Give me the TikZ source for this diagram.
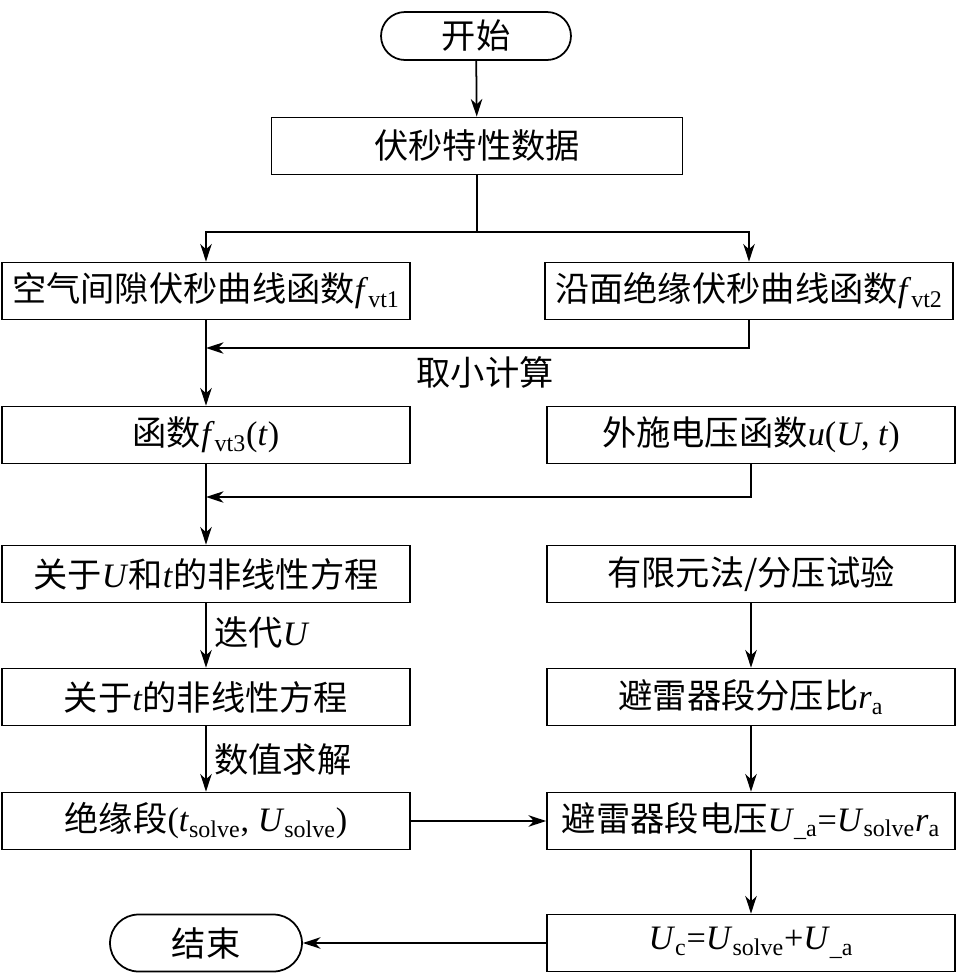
\documentclass[tikz,border=0pt]{standalone}
\usepackage{fontspec}
\setmainfont{Liberation Serif}
\newfontfamily\cjk{Noto Sans CJK SC}
\usetikzlibrary{arrows.meta, shapes.misc, positioning}
\newcommand{\sbs}[1]{\textsubscript{#1}}

\begin{document}
\begin{tikzpicture}[x=0.02cm, y=-0.02cm,
  procbox/.style={draw, line width=1pt, minimum width=8.16cm, minimum height=1.14cm, inner sep=0pt, font=\fontsize{19.5}{22}\selectfont},
  termbox/.style={draw, rounded rectangle, line width=1pt, minimum width=3.8cm, minimum height=0.96cm, inner sep=0pt, font=\fontsize{19.5}{22}\selectfont},
  lbl/.style={font=\fontsize{19.5}{22}\selectfont, inner sep=0pt},
  flow/.style={line width=1pt, -{Stealth[length=10pt, width=6.5pt, inset=3pt]}}]
  \useasboundingbox (0,0) rectangle (957,975);

  % 开始与数据
  \node[termbox] (start) at (476,36) {\cjk 开始};
  \node[procbox, minimum width=8.22cm] (data) at (477,146) {\cjk 伏秒特性数据};
  \draw[flow] (start) -- (data);

  % 伏秒曲线
  \node[procbox] (air) at (206,291) {{\cjk 空气间隙伏秒曲线函数}\textit{f}\sbs{vt1}};
  \node[procbox] (surf) at (749,291) {{\cjk 沿面绝缘伏秒曲线函数}\textit{f}\sbs{vt2}};
  \coordinate (split) at (477,232);
  \draw[line width=1pt] (data.south) -- (split);
  \draw[flow] (split) -| (air.north);
  \draw[flow] (split) -| (surf.north);

  \node[procbox] (fvt3) at (206,435) {{\cjk 函数}\textit{f}\sbs{vt3}(\textit{t})};
  \node[procbox] (ext) at (751,435) {{\cjk 外施电压函数}\textit{u}(\textit{U}, \textit{t})};
  \coordinate (join1) at (206,348);
  \draw[flow] (air.south) -- (fvt3.north);
  \draw[flow] (surf.south) |- (join1);
  \node[lbl] (minlbl) at (485,372) {\cjk 取小计算};

  % 非线性方程
  \node[procbox] (equt) at (206,574) {{\cjk 关于}\textit{U}{\cjk 和}\textit{t}{\cjk 的非线性方程}};
  \node[procbox] (fem) at (751,574) {\cjk 有限元法/分压试验};
  \coordinate (join2) at (206,497);
  \draw[flow] (fvt3.south) -- (equt.north);
  \draw[flow] (ext.south) |- (join2);

  \node[procbox] (eqt) at (206,697) {{\cjk 关于}\textit{t}{\cjk 的非线性方程}};
  \node[procbox] (ratio) at (751,697) {{\cjk 避雷器段分压比}\textit{r}\sbs{a}};
  \draw[flow] (equt.south) -- (eqt.north);
  \node[lbl, anchor=west] (iterlbl) at (214,633) {{\cjk 迭代}\textit{U}};
  \draw[flow] (fem.south) -- (ratio.north);

  % 求解
  \node[procbox] (ins) at (206,821) {{\cjk 绝缘段}(\textit{t}\sbs{solve}, \textit{U}\sbs{solve})};
  \node[procbox] (arrv) at (751,821) {{\cjk 避雷器段电压}\textit{U}\sbs{\_a}=\textit{U}\sbs{solve}\textit{r}\sbs{a}};
  \draw[flow] (eqt.south) -- (ins.north);
  \node[lbl, anchor=west] (sollbl) at (214,760) {\cjk 数值求解};
  \draw[flow] (ratio.south) -- (arrv.north);
  \draw[flow] (ins.east) -- (arrv.west);

  % 结束
  \node[procbox] (uc) at (751,943) {\textit{U}\sbs{c}=\textit{U}\sbs{solve}+\textit{U}\sbs{\_a}};
  \node[termbox, minimum width=3.84cm, minimum height=1.14cm] (stop) at (206,943) {\cjk 结束};
  \draw[flow] (arrv.south) -- (uc.north);
  \draw[flow] (uc.west) -- (stop.east);
\end{tikzpicture}
\end{document}
